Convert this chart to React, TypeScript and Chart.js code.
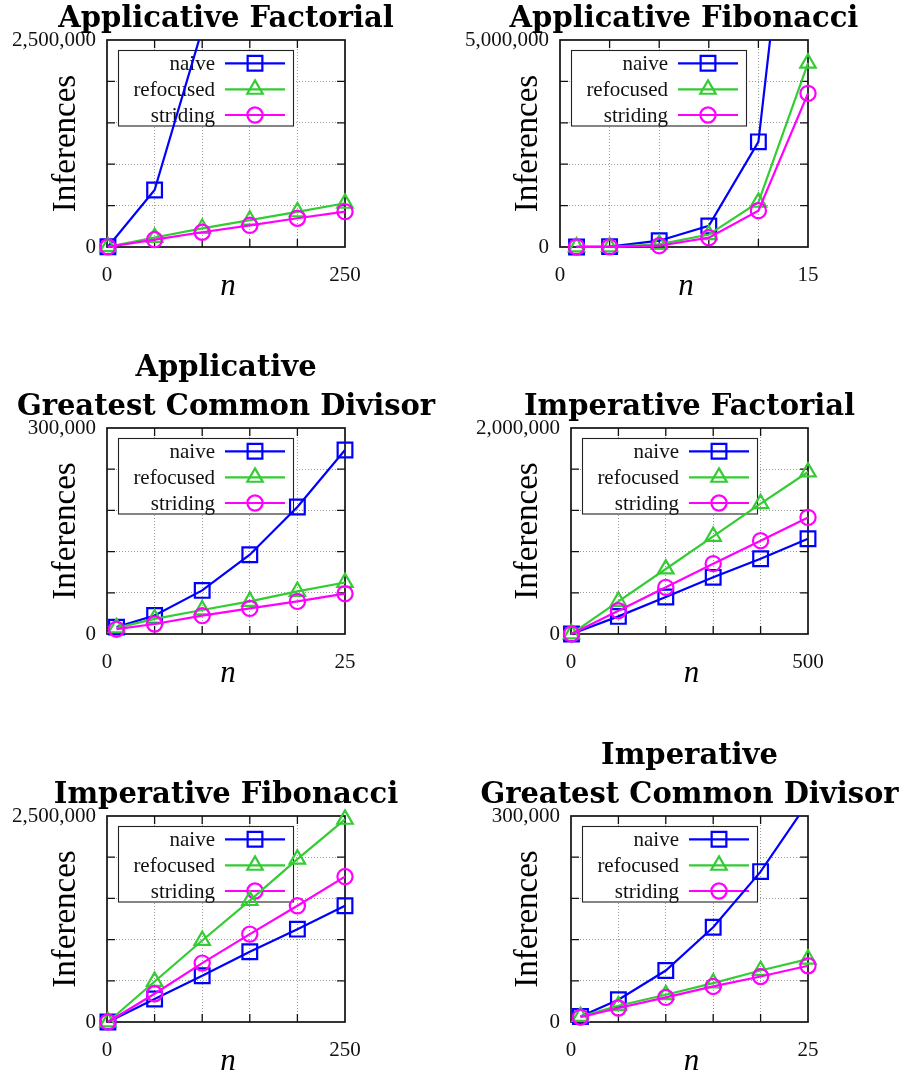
import React, { useEffect, useRef } from 'react';
import { Chart, registerables } from 'chart.js';

Chart.register(...registerables);

// ---------------- data ----------------
const seriesNames = ['naive', 'refocused', 'striding'];
const seriesColors = ['#0000ff', '#33cc33', '#ff00ff'];

// Applicative Factorial
const appFactN = [1, 50, 100, 150, 200, 250];
const appFactNaive = [3000, 688000, 2630000];
const appFactRefocused = [3000, 115000, 225000, 325000, 425000, 528000];
const appFactStriding = [2000, 90000, 178000, 262000, 347000, 427000];

// Applicative Fibonacci
const appFibN = [1, 3, 6, 9, 12, 15];
const appFibNaive = [1000, 10000, 152000, 510000, 2540000, 13000000];
const appFibRefocused = [1000, 5000, 65000, 300000, 1080000, 4440000];
const appFibStriding = [800, 4000, 31000, 225000, 877000, 3710000];

// Applicative Greatest Common Divisor
const appGcdN = [1, 5, 10, 15, 20, 25];
const appGcdNaive = [10000, 27000, 63500, 115500, 185000, 268000];
const appGcdRefocused = [9000, 22000, 35000, 47500, 62000, 75000];
const appGcdStriding = [7000, 14600, 26700, 37300, 47500, 58700];

// Imperative Factorial
const impFactN = [1, 100, 200, 300, 400, 500];
const impFactNaive = [500, 171000, 359000, 550000, 731000, 925000];
const impFactRefocused = [500, 317000, 631000, 948000, 1265000, 1573000];
const impFactStriding = [500, 226000, 453000, 683000, 906000, 1132000];

// Imperative Fibonacci
const impFibN = [1, 50, 100, 150, 200, 250];
const impFibNaive = [500, 279000, 561000, 852000, 1127000, 1410000];
const impFibRefocused = [500, 492000, 989000, 1474000, 1976000, 2460000];
const impFibStriding = [500, 343000, 715000, 1067000, 1410000, 1765000];

// Imperative Greatest Common Divisor
const impGcdN = [1, 5, 10, 15, 20, 25];
const impGcdNaive = [8000, 32500, 75000, 138000, 219000, 320000];
const impGcdRefocused = [8000, 23700, 39700, 56700, 75000, 91600];
const impGcdStriding = [7000, 20400, 35800, 51800, 66300, 81900];

// titles and axis limits
const panelTitles = [
  ['Applicative Factorial'],
  ['Applicative Fibonacci'],
  ['Applicative', 'Greatest Common Divisor'],
  ['Imperative Factorial'],
  ['Imperative Fibonacci'],
  ['Imperative', 'Greatest Common Divisor'],
];
const xLimits = [250, 15, 25, 500, 250, 25];
const yLimits = [2500000, 5000000, 300000, 2000000, 2500000, 300000];
const yAxisTitle = 'Inferences';
const xAxisTitle = 'n';

const panelN = [appFactN, appFibN, appGcdN, impFactN, impFibN, impGcdN];
const panelSeries = [
  [appFactNaive, appFactRefocused, appFactStriding],
  [appFibNaive, appFibRefocused, appFibStriding],
  [appGcdNaive, appGcdRefocused, appGcdStriding],
  [impFactNaive, impFactRefocused, impFactStriding],
  [impFibNaive, impFibRefocused, impFibStriding],
  [impGcdNaive, impGcdRefocused, impGcdStriding],
];

// ---------------- layout (page px) ----------------
const boxes = [
  { x: 0, y: 0, w: 452, h: 310 },
  { x: 452, y: 0, w: 453, h: 310 },
  { x: 0, y: 330, w: 452, h: 380 },
  { x: 452, y: 330, w: 453, h: 380 },
  { x: 0, y: 720, w: 452, h: 356 },
  { x: 452, y: 720, w: 453, h: 356 },
];
const plots = [
  { l: 107, t: 40, r: 345, b: 247 },
  { l: 560, t: 40, r: 808, b: 247 },
  { l: 107, t: 428, r: 345, b: 634 },
  { l: 571, t: 428, r: 808, b: 634 },
  { l: 107, t: 816, r: 345, b: 1022 },
  { l: 571, t: 816, r: 808, b: 1022 },
];
const yTitleXs = [75, 537, 75, 537, 75, 537];

const pointStyles = ['rect', 'triangle', 'circle'];
const pointRadii = [10.4, 8.9, 7.6];
const LINE_W = 2.2;
const TEXT_FONT = '"Liberation Serif", "Times New Roman", serif';
const TITLE_FONT = '"DejaVu Serif", serif';

const fmt = (v: number) => v.toLocaleString('en-US');

function drawMarker(ctx: CanvasRenderingContext2D, style: string, cx: number, cy: number, r: number) {
  ctx.beginPath();
  if (style === 'rect') {
    const s = Math.SQRT1_2 * r;
    ctx.rect(cx - s, cy - s, 2 * s, 2 * s);
  } else if (style === 'triangle') {
    for (let k = 0; k < 3; k++) {
      const a = (k * 2 * Math.PI) / 3;
      const px = cx + Math.sin(a) * r;
      const py = cy - Math.cos(a) * r;
      if (k === 0) ctx.moveTo(px, py);
      else ctx.lineTo(px, py);
    }
    ctx.closePath();
  } else {
    ctx.arc(cx, cy, r, 0, Math.PI * 2);
  }
  ctx.stroke();
}

function makeConfig(idx: number): any {
  const box = boxes[idx];
  const plot = plots[idx];
  const xMax = xLimits[idx];
  const yMax = yLimits[idx];
  const rel = { l: plot.l - box.x, t: plot.t - box.y, r: plot.r - box.x, b: plot.b - box.y };
  const n = panelN[idx];

  const datasets = panelSeries[idx].map((vals, i) => ({
    label: seriesNames[i],
    data: vals.map((v, j) => ({ x: n[j], y: v })),
    borderColor: seriesColors[i],
    backgroundColor: 'rgba(0,0,0,0)',
    pointBackgroundColor: 'rgba(0,0,0,0)',
    pointBorderColor: seriesColors[i],
    borderWidth: LINE_W,
    pointBorderWidth: LINE_W,
    pointStyle: pointStyles[i],
    pointRadius: pointRadii[i],
    pointHoverRadius: pointRadii[i],
    tension: 0,
    order: 2 - i,
    clip: i === 0 ? { left: 14, right: 14, bottom: 14, top: 0 } : 14,
  }));

  const inner = (v: any, max: number) => typeof v === 'number' && v > 0 && v < max;

  const decor = {
    id: 'decor',
    beforeDatasetsDraw(chart: any) {
      const { ctx, chartArea: a, scales } = chart;
      const xs = scales.x;
      const ys = scales.y;
      ctx.save();
      // legend box
      const lx = a.left + 11.5;
      const ly = a.top + 10.5;
      ctx.fillStyle = '#ffffff';
      ctx.fillRect(lx, ly, 175, 75.5);
      ctx.strokeStyle = '#222';
      ctx.lineWidth = 1.1;
      ctx.strokeRect(lx, ly, 175, 75.5);
      const rowY = [23.3, 49.3, 75];
      for (let i = 0; i < 3; i++) {
        const cy = a.top + rowY[i];
        ctx.fillStyle = '#111';
        ctx.font = `21px ${TEXT_FONT}`;
        ctx.textAlign = 'right';
        ctx.textBaseline = 'alphabetic';
        ctx.fillText(seriesNames[i], a.left + 108, cy + 7);
        ctx.strokeStyle = seriesColors[i];
        ctx.lineWidth = LINE_W;
        ctx.beginPath();
        ctx.moveTo(a.left + 118, cy);
        ctx.lineTo(a.left + 178, cy);
        ctx.stroke();
        drawMarker(ctx, pointStyles[i], a.left + 148, cy, pointRadii[i]);
      }
      // frame
      ctx.strokeStyle = '#111';
      ctx.lineWidth = 1.7;
      ctx.strokeRect(a.left, a.top, a.right - a.left, a.bottom - a.top);
      // inward tick marks
      ctx.lineWidth = 1.3;
      ctx.beginPath();
      xs.ticks.forEach((t: any) => {
        if (!inner(t.value, xMax)) return;
        const px = xs.getPixelForValue(t.value);
        ctx.moveTo(px, a.bottom);
        ctx.lineTo(px, a.bottom - 8);
        ctx.moveTo(px, a.top);
        ctx.lineTo(px, a.top + 8);
      });
      ys.ticks.forEach((t: any) => {
        if (!inner(t.value, yMax)) return;
        const py = ys.getPixelForValue(t.value);
        ctx.moveTo(a.left, py);
        ctx.lineTo(a.left + 8, py);
        ctx.moveTo(a.right, py);
        ctx.lineTo(a.right - 8, py);
      });
      ctx.stroke();
      ctx.restore();
    },
    afterDraw(chart: any) {
      const { ctx, chartArea: a } = chart;
      ctx.save();
      ctx.fillStyle = '#000';
      // panel title
      const lines = panelTitles[idx];
      ctx.font = `bold 29px ${TITLE_FONT}`;
      ctx.textAlign = 'center';
      ctx.textBaseline = 'alphabetic';
      const cx = (a.left + a.right) / 2;
      lines.forEach((ln, k) => {
        const by = a.top - 13 - (lines.length - 1 - k) * 39;
        ctx.fillText(ln, cx, by);
      });
      // x axis title
      ctx.font = `italic 31px ${TEXT_FONT}`;
      ctx.fillText(xAxisTitle, cx + 2, a.bottom + 48);
      // y axis title
      ctx.translate(yTitleXs[idx] - box.x, (a.top + a.bottom) / 2);
      ctx.rotate(-Math.PI / 2);
      ctx.font = `33px ${TEXT_FONT}`;
      ctx.fillText(yAxisTitle, 0, 0);
      ctx.restore();
    },
  };

  return {
    type: 'line',
    data: { datasets },
    options: {
      animation: false,
      responsive: false,
      events: [],
      layout: { padding: { left: 0, top: rel.t, right: box.w - rel.r, bottom: 0 } },
      plugins: {
        legend: { display: false },
        title: { display: false },
        tooltip: { enabled: false },
      },
      scales: {
        x: {
          type: 'linear',
          min: 0,
          max: xMax,
          ticks: {
            stepSize: xMax / 5,
            autoSkip: false,
            maxRotation: 0,
            minRotation: 0,
            padding: 16,
            color: '#111',
            font: { family: TEXT_FONT, size: 21 },
            callback: (v: number) => (v === 0 || v === xMax ? fmt(v) : ''),
          },
          grid: {
            color: (c: any) => (inner(c.tick && c.tick.value, xMax) ? '#9a9a9a' : 'rgba(0,0,0,0)'),
            lineWidth: 1,
            drawTicks: false,
          },
          border: { display: false, dash: [1, 2] },
          afterFit: (s: any) => {
            s.height = box.h - rel.b;
          },
        },
        y: {
          type: 'linear',
          min: 0,
          max: yMax,
          ticks: {
            stepSize: yMax / 5,
            autoSkip: false,
            padding: 11,
            color: '#111',
            font: { family: TEXT_FONT, size: 21 },
            callback: (v: number) => (v === 0 || v === yMax ? fmt(v) : ''),
          },
          grid: {
            color: (c: any) => (inner(c.tick && c.tick.value, yMax) ? '#9a9a9a' : 'rgba(0,0,0,0)'),
            lineWidth: 1,
            drawTicks: false,
          },
          border: { display: false, dash: [1, 2] },
          afterFit: (s: any) => {
            s.width = rel.l;
          },
        },
      },
    },
    plugins: [decor],
  };
}

function Panel({ idx }: { idx: number }) {
  const ref = useRef<HTMLCanvasElement>(null);
  useEffect(() => {
    const chart = new Chart(ref.current as HTMLCanvasElement, makeConfig(idx));
    return () => chart.destroy();
  }, [idx]);
  const b = boxes[idx];
  return (
    <canvas
      ref={ref}
      width={b.w}
      height={b.h}
      style={{ position: 'absolute', left: b.x, top: b.y, width: b.w, height: b.h, display: 'block' }}
    />
  );
}

export default function App() {
  return (
    <div style={{ position: 'absolute', left: 0, top: 0, width: 905, height: 1076, overflow: 'hidden', background: '#fff' }}>
      {panelTitles.map((_, i) => (
        <Panel key={i} idx={i} />
      ))}
    </div>
  );
}
